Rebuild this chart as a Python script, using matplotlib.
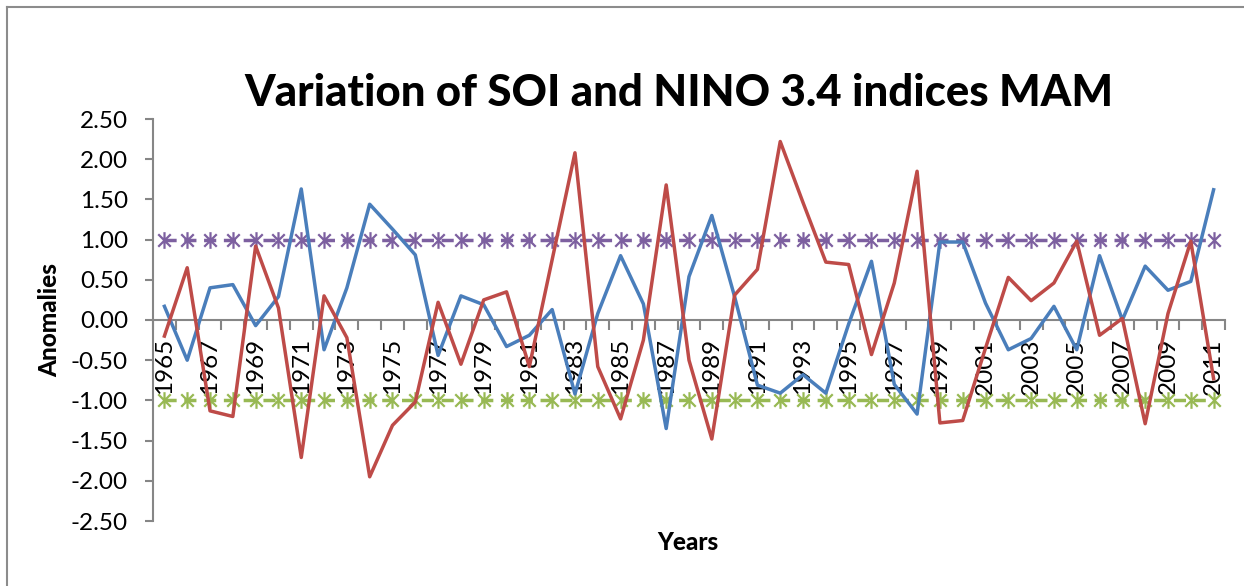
import numpy as np
import matplotlib
matplotlib.use("Agg")
import matplotlib.pyplot as plt
from matplotlib.path import Path
from matplotlib.ticker import FixedLocator, FixedFormatter

plt.rcParams['font.family'] = ['Lato', 'DejaVu Sans']

years = list(range(1965, 2012))

soi = [0.17, -0.50, 0.40, 0.44, -0.07, 0.29, 1.63, -0.37, 0.40, 1.44,
       1.13, 0.81, -0.44, 0.30, 0.19, -0.33, -0.19, 0.13, -0.92, 0.08,
       0.80, 0.20, -1.35, 0.54, 1.30, 0.29, -0.81, -0.91, -0.68, -0.91,
       -0.05, 0.73, -0.80, -1.17, 0.97, 0.97, 0.21, -0.37, -0.23, 0.17,
       -0.37, 0.80, 0.00, 0.67, 0.37, 0.48, 1.62]

nino34 = [-0.20, 0.65, -1.13, -1.20, 0.92, 0.15, -1.71, 0.30, -0.22, -1.95,
          -1.31, -1.02, 0.22, -0.55, 0.25, 0.35, -0.58, 0.75, 2.08, -0.58,
          -1.23, -0.25, 1.68, -0.50, -1.48, 0.31, 0.63, 2.22, 1.46, 0.72,
          0.69, -0.43, 0.46, 1.85, -1.28, -1.25, -0.35, 0.53, 0.24, 0.46,
          0.98, -0.19, 0.02, -1.29, 0.08, 0.98, -0.73]

upper = [1.0] * len(years)
lower = [-1.0] * len(years)

y_ticks = [2.5, 2.0, 1.5, 1.0, 0.5, 0.0, -0.5, -1.0, -1.5, -2.0, -2.5]

# asterisk without the horizontal arm (vertical stroke plus an X)
star = Path([(0, -1), (0, 1), (-0.75, -0.75), (0.75, 0.75), (-0.75, 0.75), (0.75, -0.75)],
            [Path.MOVETO, Path.LINETO, Path.MOVETO, Path.LINETO, Path.MOVETO, Path.LINETO])

fig = plt.figure(figsize=(12.44, 5.86), dpi=100)
ax = fig.add_axes([153 / 1244, 1 - 521 / 586, 1072 / 1244, 402 / 586])

x = np.arange(len(years))
ax.plot(x, soi, color='#4A7EBB', lw=2.5, zorder=3)
ax.plot(x, nino34, color='#BE4B48', lw=2.5, zorder=3)
ax.plot(x, upper, color='#7D60A0', lw=2.5, ls=(0, (3.5, 2.2)), marker=star,
        markersize=12, markeredgewidth=1.6, zorder=2)
ax.plot(x, lower, color='#98B954', lw=2.5, ls=(0, (3.5, 2.2)), marker=star,
        markersize=12, markeredgewidth=1.6, zorder=2)

ax.set_xlim(-0.5, len(years) - 0.5)
ax.set_ylim(-2.5, 2.5)

for s in ['top', 'right']:
    ax.spines[s].set_visible(False)
ax.spines['bottom'].set_position(('data', 0))
ax.spines['bottom'].set_color('#868686')
ax.spines['bottom'].set_linewidth(1.5)
ax.spines['left'].set_color('#868686')
ax.spines['left'].set_linewidth(1.5)

ax.set_yticks(y_ticks)
ax.set_yticklabels(['%.2f' % v for v in y_ticks])
ax.tick_params(axis='y', length=6, width=1.5, color='#868686', labelsize=17.5, pad=12)

label_idx = x[::2]
ax.xaxis.set_major_locator(FixedLocator(label_idx))
ax.xaxis.set_major_formatter(FixedFormatter([str(years[i]) for i in label_idx]))
ax.xaxis.set_minor_locator(FixedLocator(np.arange(len(years) + 1) - 0.5))
ax.tick_params(axis='x', which='major', length=0, labelsize=17.5, labelrotation=90, pad=13)
ax.tick_params(axis='x', which='minor', length=7, width=1.5, color='#868686', direction='out')

fig.text(679 / 1244, 1 - 93 / 586, 'Variation of SOI and NINO 3.4 indices MAM',
         ha='center', va='center', fontsize=31.5, fontweight='black')
fig.text(50 / 1244, 1 - 320 / 586, 'Anomalies', rotation=90, ha='center', va='center',
         fontsize=17.5, fontweight='black')
fig.text(688 / 1244, 1 - 543 / 586, 'Years', ha='center', va='center',
         fontsize=17.5, fontweight='black')

# chart frame, visible on the left and top
fig.add_artist(plt.Line2D([7 / 1244, 7 / 1244], [0, 1 - 7 / 586], color='#8c8c8c', lw=1.5))
fig.add_artist(plt.Line2D([7 / 1244, 1], [1 - 7 / 586, 1 - 7 / 586], color='#8c8c8c', lw=1.5))

fig.savefig('out.png', dpi=100)
